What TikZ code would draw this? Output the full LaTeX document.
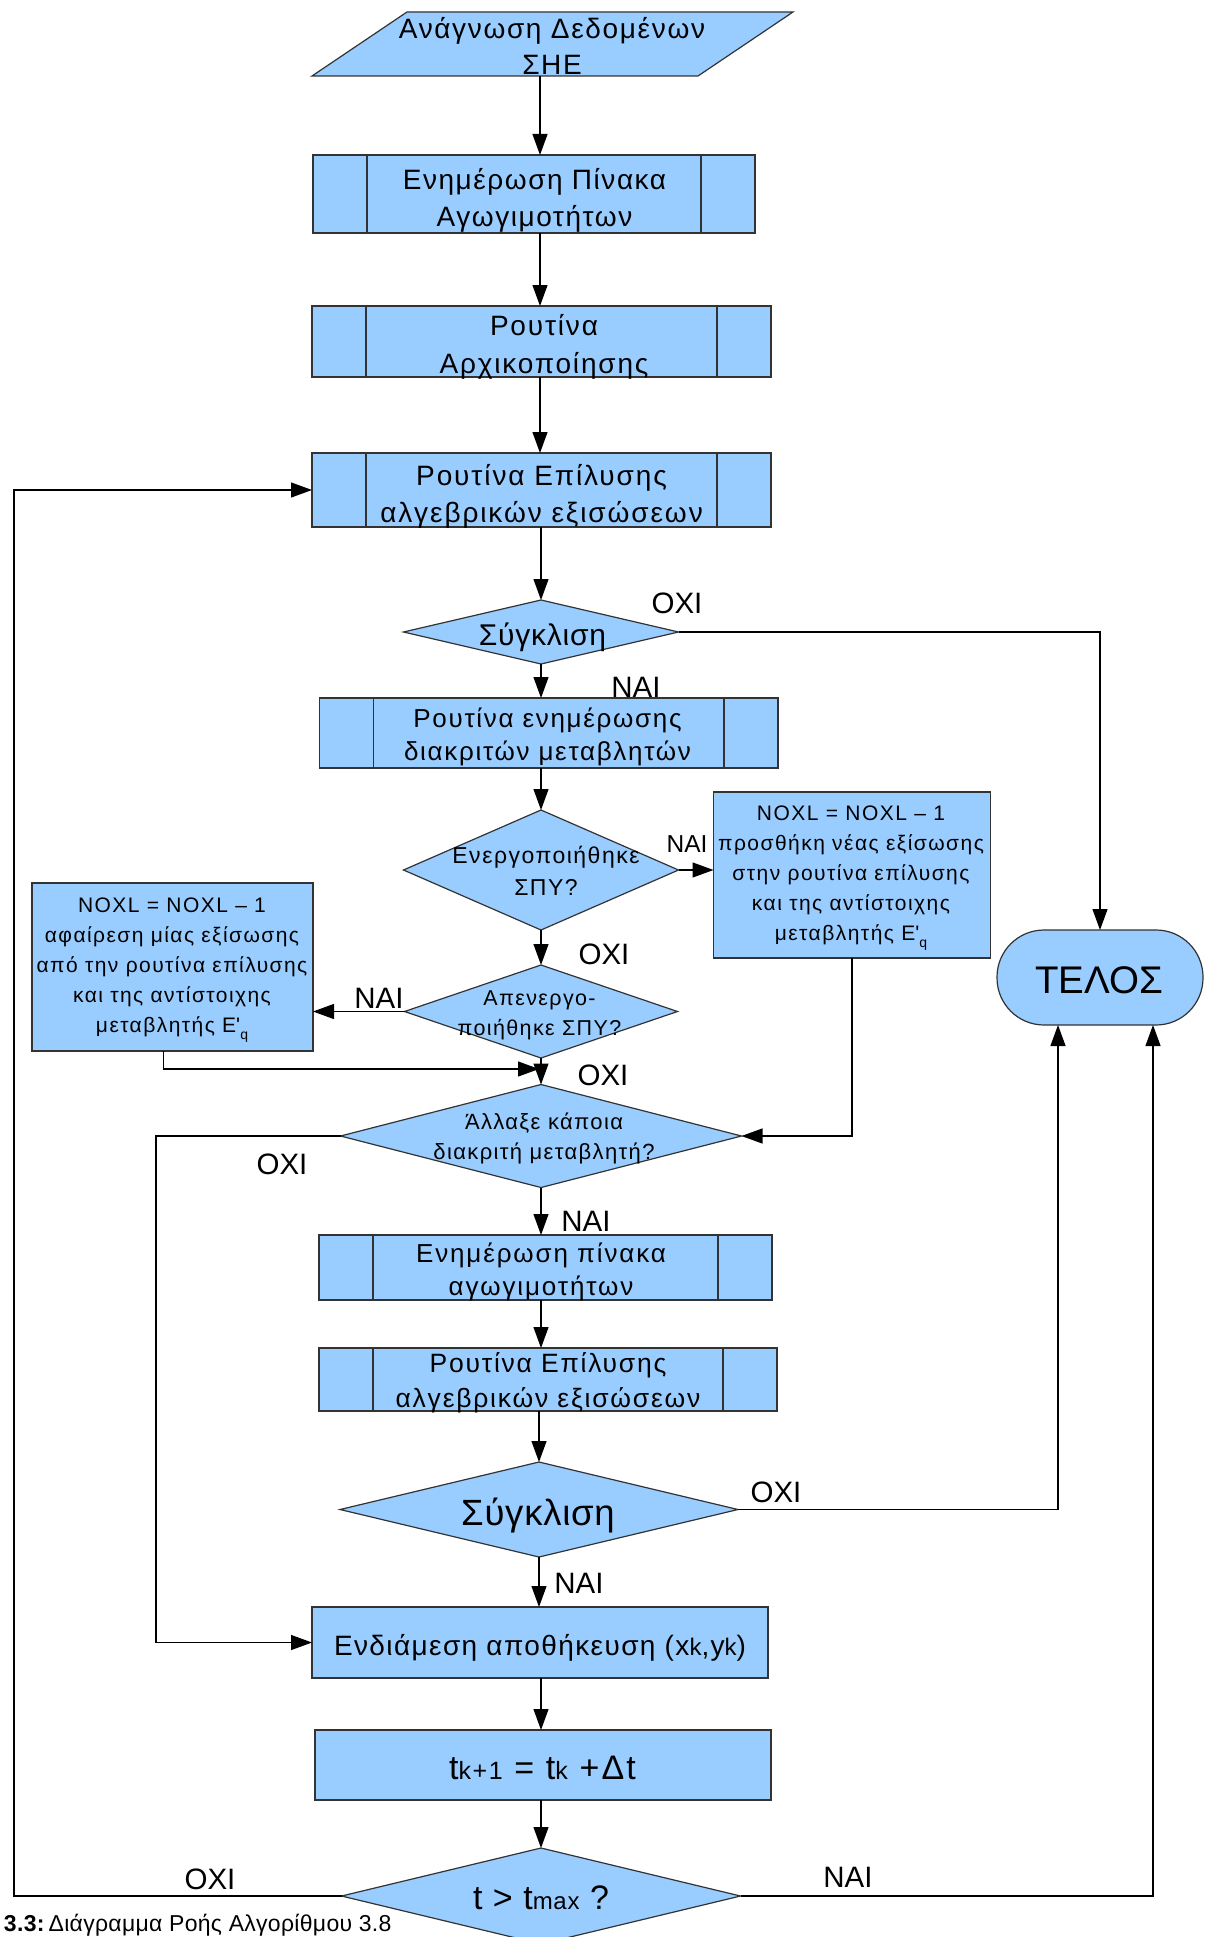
\documentclass[tikz,border=0pt]{standalone}
\usepackage{fontspec}
\setmainfont{Liberation Sans}
\usetikzlibrary{shapes.geometric,arrows.meta,calc}
\definecolor{boxblue}{HTML}{99CCFF}
\definecolor{edgegray}{HTML}{333333}
\newcommand{\fsz}[2]{\fontsize{#1}{#2}\selectfont}
\newcommand{\spaced}[1]{\addfontfeature{LetterSpace=#1}}
\newcommand{\smallidx}[1]{{\fsz{24}{24}#1}}
\newcommand{\eq}{E\textquotesingle\raisebox{-7pt}{\fsz{14}{14}q}}

\begin{document}
\begin{tikzpicture}[x=1pt,y=-1pt,
  every node/.style={inner sep=0pt,outer sep=0pt},
  shapestyle/.style={draw=edgegray,fill=boxblue,line width=1.2pt},
  box/.style={shapestyle,rectangle},
  proc/.style={box,path picture={
     \draw[edgegray,line width=1.2pt]
       ([xshift=54pt]path picture bounding box.north west) -- ([xshift=54pt]path picture bounding box.south west)
       ([xshift=-54pt]path picture bounding box.north east) -- ([xshift=-54pt]path picture bounding box.south east);}},
  dia/.style={shapestyle,diamond},
  txt/.style={align=center},
  lab/.style={font=\fsz{29.5}{29.5}},
  arr/.style={draw=black,line width=1.2pt,-{Triangle[length=21pt,width=15pt]}},
]
\fill[white] (0,0) rectangle (1206,1937);
\useasboundingbox (0,0) rectangle (1206,1937);
\clip (0,0) rectangle (1206,1937);

% input parallelogram
\path[shapestyle] (312,76) -- (407,12) -- (793,12) -- (698,76) -- cycle;
\node[txt,font={\fsz{28}{36}\spaced{5.9}}] (tin) at (552,46) {Ανάγνωση Δεδομένων\\ΣΗΕ};
\coordinate (pin) at (540,76);

% main column
\node[proc,minimum width=442,minimum height=78] (b1) at (534,194) {};
\node[txt,font={\fsz{28}{37}\spaced{5.5}}] (b1t) at (534.5,200) {Ενημέρωση Πίνακα\\Αγωγιμοτήτων};

\node[proc,minimum width=459,minimum height=71] (b2) at (541.5,341.5) {};
\node[txt,font={\fsz{28}{38}\spaced{6.5}}] (b2t) at (544,346.5) {Ρουτίνα\\Αρχικοποίησης};

\node[proc,minimum width=459,minimum height=74] (b3) at (541.5,490) {};
\node[txt,font={\fsz{28}{37}\spaced{6.8}}] (b3t) at (541.5,496) {Ρουτίνα Επίλυσης\\αλγεβρικών εξισώσεων};

\node[dia,minimum width=275,minimum height=64] (d1) at (541,632) {};
\node[font={\fsz{30}{30}\spaced{2.6}},anchor=base] (d1t) at (542.5,645) {Σύγκλιση};

\node[proc,minimum width=458.5,minimum height=70] (b4) at (548.75,733) {};
\node[txt,font={\fsz{26}{33}\spaced{6.5}}] (b4t) at (547.5,736.5) {Ρουτίνα ενημέρωσης\\διακριτών μεταβλητών};

\node[dia,minimum width=275,minimum height=120] (d2) at (541,870) {};
\node[txt,font={\fsz{23}{32}\spaced{6.5}}] (d2t) at (546,871) {Ενεργοποιήθηκε\\ΣΠΥ?};

\node[box,minimum width=277,minimum height=166] (nr) at (852,875) {};
\node[txt,font={\fsz{21}{30}\spaced{7}}] (nrt) at (851,878) {NOXL = NOXL – 1\\προσθήκη νέας εξίσωσης\\στην ρουτίνα επίλυσης\\και της αντίστοιχης\\μεταβλητής \eq};

\node[dia,minimum width=273,minimum height=93] (d3) at (541,1011.5) {};
\node[txt,font={\fsz{21.5}{30}\spaced{6.4}}] (d3t) at (539.5,1015) {Απενεργο-\\ποιήθηκε ΣΠΥ?};

\node[box,minimum width=281,minimum height=168] (nl) at (172.5,967) {};
\node[txt,font={\fsz{21}{30}\spaced{6.9}}] (nlt) at (172,970) {NOXL = NOXL – 1\\αφαίρεση μίας εξίσωσης\\από την ρουτίνα επίλυσης\\και της αντίστοιχης\\μεταβλητής \eq};

\node[dia,minimum width=401,minimum height=103] (d4) at (541,1136) {};
\node[txt,font={\fsz{22}{29.7}\spaced{6.2}}] (d4t) at (544,1138.5) {Άλλαξε κάποια\\διακριτή μεταβλητή?};

\node[proc,minimum width=453,minimum height=65] (b5) at (545.5,1267.5) {};
\node[txt,font={\fsz{26}{33.4}\spaced{7.2}}] (b5t) at (541,1272) {Ενημέρωση πίνακα\\αγωγιμοτήτων};

\node[proc,minimum width=458,minimum height=63] (b6) at (548,1379.5) {};
\node[txt,font={\fsz{26.5}{34.6}\spaced{6.7}}] (b6t) at (548,1383) {Ρουτίνα Επίλυσης\\αλγεβρικών εξισώσεων};

\node[dia,minimum width=398,minimum height=95] (d5) at (539,1509.5) {};
\node[font={\fsz{36.5}{36.5}\spaced{2.1}},anchor=base] (d5t) at (538,1525) {Σύγκλιση};

\node[box,minimum width=456,minimum height=71] (b7) at (540,1642.5) {};
\node[font={\fsz{28}{28}\spaced{5}},anchor=base] (b7t) at (540,1655) {Ενδιάμεση αποθήκευση (x\smallidx{k},y\smallidx{k})};

\node[box,minimum width=456,minimum height=70] (b8) at (543,1765) {};
\node[font={\fsz{34}{34}\spaced{6.5}},anchor=base] (b8t) at (542.5,1779) {t{\fsz{25}{25}k+1} = t{\fsz{25}{25}k} +Δt};

\node[dia,minimum width=399,minimum height=96] (d6) at (541,1896) {};
\node[font={\fsz{34}{34}\spaced{3}},anchor=base] (d6t) at (541,1909) {t > t\smallidx{max} ?};

% end terminal
\node[shapestyle,rectangle,rounded corners=47pt,minimum width=206,minimum height=95] (telos) at (1100,977.5) {};
\node[font={\fsz{38.5}{38.5}},anchor=base] (telost) at (1099,993) {ΤΕΛΟΣ};

% branch labels
\node[lab] (l1) at (677,603) {ΟΧΙ};
\node[lab] (l2) at (636,687) {ΝΑΙ};
\node[font=\fsz{24.5}{24.5}] (l3) at (687,844) {ΝΑΙ};
\node[lab] (l4) at (604,954) {ΟΧΙ};
\node[lab] (l5) at (379,998) {ΝΑΙ};
\node[lab] (l6) at (603,1075) {ΟΧΙ};
\node[lab] (l7) at (282,1164) {ΟΧΙ};
\node[lab] (l8) at (586,1221) {ΝΑΙ};
\node[lab] (l9) at (776,1492) {ΟΧΙ};
\node[lab] (l10) at (579,1583) {ΝΑΙ};
\node[lab] (l11) at (210,1879) {ΟΧΙ};
\node[lab] (l12) at (848,1877) {ΝΑΙ};

% caption
\node[font={\fsz{23}{23}\spaced{1.3}},anchor=base west] (cap) at (4,1931) {\textbf{3.3:}\,Διάγραμμα Ροής Αλγορίθμου 3.8};

% helper coordinates
\coordinate (cA) at (540,0);
\coordinate (cB) at (541,0);
\coordinate (jn) at (539,1069);
\coordinate (lx) at (156,0);
\coordinate (fx) at (14,0);

% straight flow
\draw[arr] (pin) -- (pin |- b1.north);
\draw[arr] (b1.south -| cA) -- (b2.north -| cA);
\draw[arr] (b2.south -| cA) -- (b3.north -| cA);
\draw[arr] (b3.south -| d1.north) -- (d1.north);
\draw[arr] (d1.south) -- (b4.north -| d1.south);
\draw[arr] (b4.south -| d2.north) -- (d2.north);
\draw[arr] (d2.south) -- (d3.north);
\draw[arr] (d3.south) -- (d4.north);
\draw[arr] (d4.south) -- (b5.north -| d4.south);
\draw[arr] (b5.south -| cB) -- (b6.north -| cB);
\draw[arr] (b6.south -| d5.north) -- (d5.north);
\draw[arr] (d5.south) -- (b7.north -| d5.south);
\draw[arr] (b7.south -| cB) -- (b8.north -| cB);
\draw[arr] (b8.south -| d6.north) -- (d6.north);

% branches
\draw[arr] (d1.east) -| (telos.north);
\draw[arr] (d2.east) -- (d2.east -| nr.west);
\draw[arr] (nr.south) |- (d4.east);
\draw[arr] (d3.west) -- (d3.west -| nl.east);
\draw[arr] ([xshift=-9pt]nl.south) |- (jn);
\draw[arr] (d4.west) -- (d4.west -| lx) |- (b7.west);
\draw[arr] (d5.east) -| ([xshift=-42pt]telos.south);
\draw[arr] (d6.east) -| ([xshift=53pt]telos.south);
\draw[arr] (d6.west) -- (d6.west -| fx) |- (b3.west);
\end{tikzpicture}
\end{document}
